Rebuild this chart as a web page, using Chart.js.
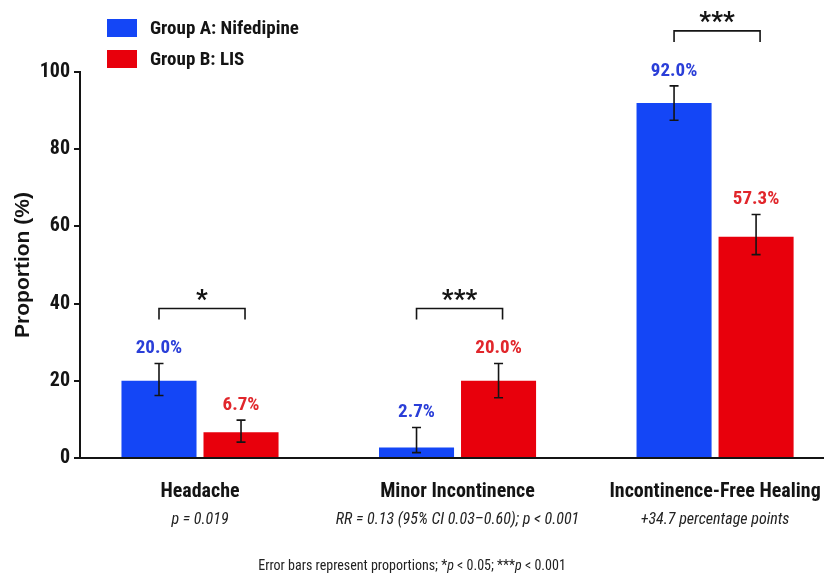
<!DOCTYPE html>
<html>
<head>
<meta charset="utf-8">
<script src="https://cdn.jsdelivr.net/npm/chart.js@4.4.1/dist/chart.umd.min.js"></script>
<style>
    html, body { margin: 0; padding: 0; background: #fff; }
    #wrap { width: 824px; height: 575px; }
</style>
</head>
<body>
<div id="wrap"><canvas id="grafico-proporcoes"></canvas></div>
<script>
const categorias = ['Headache', 'Minor Incontinence', 'Incontinence-Free Healing']
const subtitulos = ['p = 0.019', 'RR = 0.13 (95% CI 0.03–0.60); p < 0.001', '+34.7 percentage points']
const significancia = ['*', '***', '***']

// Group A: Nifedipine
const grupoA = [20.0, 2.7, 92.0]
const grupoAMin = [16.2, 1.4, 87.5]
const grupoAMax = [24.5, 7.9, 96.4]

// Group B: LIS
const grupoB = [6.7, 20.0, 57.3]
const grupoBMin = [4.1, 15.6, 52.7]
const grupoBMax = [9.8, 24.5, 63.1]

const ticksY = [0, 20, 40, 60, 80, 100]

const FONTE = "'Roboto Condensed', 'Liberation Sans Narrow', sans-serif"
const FONTE_TITULO = "'Liberation Sans', Arial, sans-serif"
const AZUL = '#1446f6'
const VERMELHO = '#e8000c'
const AZUL_TEXTO = '#2a3ed8'
const VERMELHO_TEXTO = '#e1262b'
const PRETO = '#141414'

const series = [
    { label: 'Group A: Nifedipine', valores: grupoA, min: grupoAMin, max: grupoAMax, cor: AZUL, corTexto: AZUL_TEXTO },
    { label: 'Group B: LIS', valores: grupoB, min: grupoBMin, max: grupoBMax, cor: VERMELHO, corTexto: VERMELHO_TEXTO },
]

// barras de erro, rotulos de valor, colchetes, legenda e notas
const extras = {
    id: 'extras',
    afterDatasetsDraw(chart) {
        const ctx = chart.ctx
        const y = chart.scales.y
        const x = chart.scales.x
        ctx.save()

        // barras de erro + valores
        series.forEach((s, d) => {
            const meta = chart.getDatasetMeta(d)
            meta.data.forEach((barra, i) => {
                const cx = barra.x
                const yTop = y.getPixelForValue(s.max[i])
                const yBot = y.getPixelForValue(s.min[i])
                ctx.strokeStyle = PRETO
                ctx.lineWidth = 1.6
                ctx.beginPath()
                ctx.moveTo(cx, yTop); ctx.lineTo(cx, yBot)
                ctx.moveTo(cx - 4.5, yTop); ctx.lineTo(cx + 4.5, yTop)
                ctx.moveTo(cx - 4.5, yBot); ctx.lineTo(cx + 4.5, yBot)
                ctx.stroke()

                ctx.fillStyle = s.corTexto
                ctx.font = `bold 19px ${FONTE}`
                ctx.textAlign = 'center'
                ctx.textBaseline = 'middle'
                ctx.fillText(s.valores[i].toFixed(1) + '%', cx, yTop - 15)
            })
        })

        // colchetes de significancia
        const metaA = chart.getDatasetMeta(0)
        const metaB = chart.getDatasetMeta(1)
        categorias.forEach((c, i) => {
            const x1 = metaA.data[i].x
            const x2 = metaB.data[i].x + 4
            const topo = Math.min(y.getPixelForValue(grupoAMax[i]), y.getPixelForValue(grupoBMax[i])) - 55
            ctx.strokeStyle = PRETO
            ctx.lineWidth = 1.6
            ctx.beginPath()
            ctx.moveTo(x1, topo + 11); ctx.lineTo(x1, topo); ctx.lineTo(x2, topo); ctx.lineTo(x2, topo + 11)
            ctx.stroke()
            ctx.fillStyle = PRETO
            ctx.font = `bold 26px ${FONTE}`
            ctx.textAlign = 'center'
            ctx.textBaseline = 'middle'
            ctx.fillText(significancia[i], (x1 + x2) / 2, topo - 7)
        })

        // subtitulos em italico
        ctx.fillStyle = '#222'
        ctx.font = `italic 16px ${FONTE}`
        ctx.textAlign = 'center'
        ctx.textBaseline = 'middle'
        subtitulos.forEach((t, i) => ctx.fillText(t, x.getPixelForValue(i), 520))

        // nota de rodape com p em italico
        const partes = [
            ['Error bars represent proportions; *', 'normal'],
            ['p', 'italic'],
            [' < 0.05; ***', 'normal'],
            ['p', 'italic'],
            [' < 0.001', 'normal'],
        ]
        let total = 0
        partes.forEach(p => { ctx.font = `${p[1]} 14px ${FONTE}`; total += ctx.measureText(p[0]).width })
        let px = 412 - total / 2
        ctx.textAlign = 'left'
        partes.forEach(p => {
            ctx.font = `${p[1]} 14px ${FONTE}`
            ctx.fillText(p[0], px, 566)
            px += ctx.measureText(p[0]).width
        })

        // legenda
        series.forEach((s, d) => {
            const ly = 19 + d * 31
            ctx.fillStyle = s.cor
            ctx.fillRect(107, ly, 30, 18)
            ctx.fillStyle = PRETO
            ctx.font = `bold 19px ${FONTE}`
            ctx.textAlign = 'left'
            ctx.textBaseline = 'middle'
            ctx.fillText(s.label, 150, ly + 10)
        })

        ctx.restore()
    }
}

let myChartProporcoes = new Chart(
    document.getElementById('grafico-proporcoes'),
    {
        type: 'bar',
        data: {
            datasets: series.map(s => ({
                label: s.label,
                data: s.valores.map((v, i) => ({ x: i, y: v })),
                backgroundColor: s.cor,
                borderWidth: 0,
                categoryPercentage: 0.637,
                barPercentage: 0.915,
            }))
        },
        options: {
            responsive: true,
            maintainAspectRatio: false,
            animation: false,
            layout: { padding: { top: 72, left: 0, right: 0, bottom: 0 } },
            scales: {
                x: {
                    type: 'linear',
                    offset: false,
                    min: -0.466,
                    max: 2.423,
                    afterBuildTicks: s => { s.ticks = categorias.map((c, i) => ({ value: i })) },
                    afterFit: s => {
                        s.height = 117
                        s.paddingLeft = 0
                        s.paddingRight = 0
                    },
                    grid: { display: false },
                    border: { display: true, color: PRETO, width: 2 },
                    ticks: {
                        callback: v => categorias[v],
                        autoSkip: false,
                        maxRotation: 0,
                        padding: 14,
                        color: PRETO,
                        font: { family: FONTE, size: 20, weight: 'bold' },
                    },
                },
                y: {
                    min: 0,
                    max: 100,
                    afterBuildTicks: s => { s.ticks = ticksY.map(v => ({ value: v })) },
                    afterFit: s => { s.width = 80 },
                    grid: { drawOnChartArea: false, drawTicks: true, tickLength: 6, color: PRETO, lineWidth: 2 },
                    border: { display: true, color: PRETO, width: 2 },
                    ticks: {
                        padding: 4,
                        color: PRETO,
                        font: { family: FONTE, size: 20, weight: 'bold' },
                    },
                    title: {
                        display: true,
                        text: 'Proportion (%)',
                        color: PRETO,
                        padding: { top: 11, bottom: 0 },
                        font: { family: FONTE_TITULO, size: 21, weight: 'bold' },
                    },
                },
            },
            plugins: {
                legend: { display: false },
                tooltip: { enabled: false },
            },
        },
        plugins: [extras],
    }
)
</script>
</body>
</html>
